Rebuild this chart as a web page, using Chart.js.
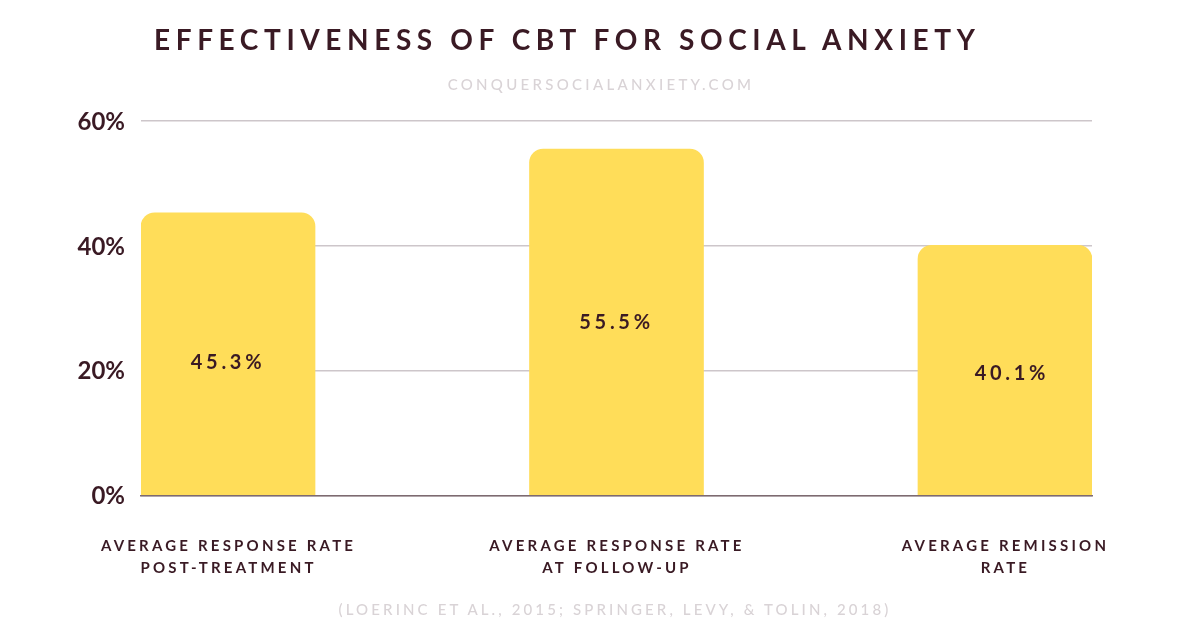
<!DOCTYPE html>
<html>
<head>
<meta charset="utf-8">
<script src="https://cdn.jsdelivr.net/npm/chart.js@4"></script>
<style>
  html, body { margin: 0; background: #fff; }
  #wrap { position: relative; width: 1200px; height: 628px; overflow: hidden; }
  canvas { position: absolute; left: 0; top: 0; }
  .t { position: absolute; font-family: Lato, sans-serif; white-space: nowrap; text-align: center; }
  #title { left: 154px; top: 22px; font-size: 28px; font-weight: 700; letter-spacing: 5.6px; color: #3a1a24; }
  #site { left: 0; width: 1202px; top: 75px; font-size: 15px; font-weight: 500; letter-spacing: 3.3px; color: #d9d3d6; }
  #source { left: 0; width: 1230px; top: 600px; font-size: 15px; font-weight: 500; letter-spacing: 3.12px; color: #d9d3d6; }
</style>
</head>
<body>
<div id="wrap">
  <canvas id="c" width="1200" height="628"></canvas>
  <div class="t" id="title">EFFECTIVENESS OF CBT FOR SOCIAL ANXIETY</div>
  <div class="t" id="site">CONQUERSOCIALANXIETY.COM</div>
  <div class="t" id="source">(LOERINC ET AL., 2015; SPRINGER, LEVY, &amp; TOLIN, 2018)</div>
</div>
<script>
const categories = [
  ["AVERAGE RESPONSE RATE", "POST-TREATMENT"],
  ["AVERAGE RESPONSE RATE", "AT FOLLOW-UP"],
  ["AVERAGE REMISSION", "RATE"]
];
const rates = [45.3, 55.5, 40.1];
const rateLabels = ["45.3%", "55.5%", "40.1%"];
const yTicks = [0, 20, 40, 60];

// the labels don't sit exactly mid bar in the original
const labelShiftX = [0, 0, 7];
const labelShiftY = [9, 1, 4];

// bar value labels and spaced x labels, chart.js has no letter spacing option
const barText = {
  id: "barText",
  afterDatasetsDraw(chart) {
    const ctx = chart.ctx;
    const meta = chart.getDatasetMeta(0);
    ctx.save();
    ctx.fillStyle = "#3a1a24";
    ctx.textAlign = "center";
    ctx.textBaseline = "middle";
    ctx.font = "700 20px Lato";
    ctx.letterSpacing = "3.7px";
    meta.data.forEach((bar, i) => {
      const mid = (bar.y + bar.base) / 2;
      ctx.fillText(rateLabels[i], bar.x + labelShiftX[i], mid + labelShiftY[i]);
    });
    ctx.font = "700 15px Lato";
    ctx.letterSpacing = "3.2px";
    meta.data.forEach((bar, i) => {
      categories[i].forEach((line, j) => {
        ctx.fillText(line, bar.x + 0.5, chart.scales.y.getPixelForValue(0) + 51 + j * 22);
      });
    });
    ctx.restore();
  }
};

new Chart(document.getElementById("c"), {
  type: "bar",
  plugins: [barText],
  data: {
    datasets: [{
      data: rates.map((r, i) => ({ x: i, y: r })),
      backgroundColor: "#ffdd59",
      barThickness: 174,
      borderRadius: { topLeft: 14, topRight: 14, bottomLeft: 0, bottomRight: 0 },
      borderSkipped: "bottom"
    }]
  },
  options: {
    responsive: false,
    animation: false,
    devicePixelRatio: 1,
    layout: { padding: { left: 0, right: 108, top: 121, bottom: 124.5 } },
    plugins: { legend: { display: false }, tooltip: { enabled: false } },
    scales: {
      x: {
        // linear so the first and last bars can touch the plot edges
        type: "linear",
        offset: false,
        min: -0.224,
        max: 2.224,
        grid: { display: false, offset: false },
        border: { color: "#7d6a70", width: 1.5 },
        ticks: { display: false }
      },
      y: {
        min: 0,
        max: 60,
        afterFit(axis) { axis.width = 141; },
        afterBuildTicks(axis) { axis.ticks = yTicks.map(v => ({ value: v })); },
        grid: { color: "#cdc6ca", lineWidth: 1.5, drawTicks: false },
        border: { display: false },
        ticks: {
          color: "#3a1a24",
          padding: 16,
          labelOffset: 1,
          font: { family: "Lato", size: 24, weight: "700" },
          callback: v => v + "%"
        }
      }
    }
  }
});
</script>
</body>
</html>
